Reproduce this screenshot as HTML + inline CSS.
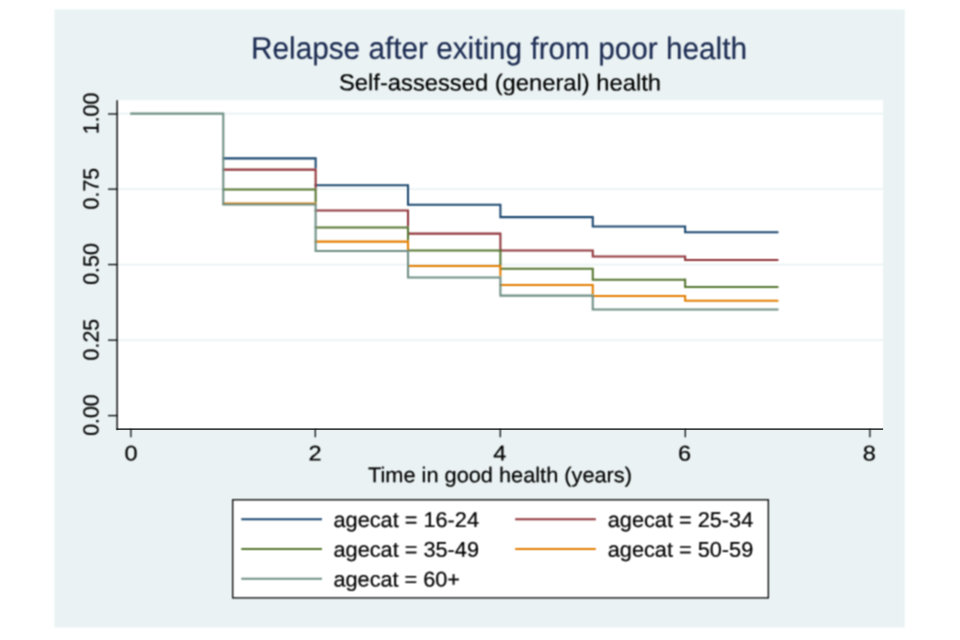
<!DOCTYPE html>
<html lang="en">
<head>
<meta charset="utf-8">
<title>Relapse after exiting from poor health</title>
<style>
html,body{margin:0;padding:0;background:#fff;}
body{width:960px;height:640px;overflow:hidden;}
svg{display:block;}
text{font-family:"Liberation Sans",Arial,Helvetica,sans-serif;fill:#000;stroke:#000;stroke-width:0.2px;stroke-linejoin:round;}
.ttl{fill:#1E2D53;stroke:#1E2D53;stroke-width:0.2px;}
</style>
</head>
<body>
<svg width="960" height="640" viewBox="0 0 960 640">
<defs><filter id="soft" x="0" y="0" width="960" height="640" filterUnits="userSpaceOnUse" color-interpolation-filters="sRGB"><feConvolveMatrix order="3" kernelMatrix="1 2 1 2 4 2 1 2 1" divisor="16" edgeMode="duplicate" preserveAlpha="true"/></filter></defs>
<g filter="url(#soft)">
<rect x="0" y="0" width="960" height="640" fill="#fff"/>
<rect x="54.4" y="9.4" width="850.35" height="618.1" fill="#EAF2F3"/>
<rect x="117.15" y="100.2" width="765.95" height="328.20" fill="#fff"/>
<line x1="117.15" x2="883.1" y1="340.10" y2="340.10" stroke="#EAF2F3" stroke-width="1.6"/>
<line x1="117.15" x2="883.1" y1="264.60" y2="264.60" stroke="#EAF2F3" stroke-width="1.6"/>
<line x1="117.15" x2="883.1" y1="189.10" y2="189.10" stroke="#EAF2F3" stroke-width="1.6"/>
<line x1="117.15" x2="883.1" y1="113.60" y2="113.60" stroke="#EAF2F3" stroke-width="1.6"/>
<path d="M222.25,158.35H316.67 M315.65,157.32V168.57 M314.62,185.30H409.05 M408.02,184.28V205.72 M407.00,204.70H501.42 M500.40,203.67V218.12 M499.38,217.10H593.80 M592.77,216.07V227.53 M591.75,226.50H686.17 M685.15,225.47V233.18 M684.12,232.15H778.42" fill="none" stroke="#1A476F" stroke-width="2.05"/>
<path d="M222.25,169.60H316.67 M315.65,168.57V188.42 M314.62,210.40H409.05 M408.02,209.38V226.38 M407.00,233.60H501.42 M500.40,232.57V249.38 M499.38,250.50H593.80 M592.77,249.47V257.52 M591.75,256.50H686.17 M685.15,255.47V261.02 M684.12,260.00H778.42" fill="none" stroke="#90353B" stroke-width="2.05"/>
<path d="M222.25,189.45H316.67 M315.65,188.42V202.57 M314.62,227.40H409.05 M408.02,226.38V240.57 M407.00,250.40H501.42 M500.40,249.38V264.93 M499.38,268.75H593.80 M592.77,267.73V280.67 M591.75,279.65H686.17 M685.15,278.62V288.02 M684.12,287.00H778.42" fill="none" stroke="#55752F" stroke-width="2.05"/>
<path d="M222.25,203.60H316.67 M315.65,202.57V203.47 M314.62,241.60H409.05 M408.02,240.57V249.88 M407.00,265.95H501.42 M500.40,264.93V276.38 M499.38,284.90H593.80 M592.77,283.88V294.58 M591.75,295.95H686.17 M685.15,294.93V301.72 M684.12,300.70H778.42" fill="none" stroke="#E37E00" stroke-width="2.05"/>
<path d="M130.15,113.60H224.30 M223.28,112.57V205.53 M222.25,204.50H316.67 M315.65,203.47V251.93 M314.62,250.90H409.05 M408.02,249.88V278.42 M407.00,277.40H501.42 M500.40,276.38V296.62 M499.38,295.60H593.80 M592.77,294.58V310.57 M591.75,309.55H685.15 M684.12,309.55H778.42" fill="none" stroke="#6E8E84" stroke-width="2.05"/>
<g stroke="#000" fill="none">
<line x1="117.15" x2="117.15" y1="100.2" y2="429.80" stroke-width="1.4"/>
<line x1="108.05" x2="117.15" y1="415.60" y2="415.60" stroke-width="1.3"/>
<line x1="108.05" x2="117.15" y1="340.15" y2="340.15" stroke-width="1.3"/>
<line x1="108.05" x2="117.15" y1="264.55" y2="264.55" stroke-width="1.3"/>
<line x1="108.05" x2="117.15" y1="189.15" y2="189.15" stroke-width="1.3"/>
<line x1="108.05" x2="117.15" y1="114.00" y2="114.00" stroke-width="1.3"/>
<line x1="130.90" x2="130.90" y1="429.1" y2="437.2" stroke-width="1.25"/>
<line x1="315.30" x2="315.30" y1="429.1" y2="437.2" stroke-width="1.25"/>
<line x1="500.30" x2="500.30" y1="429.1" y2="437.2" stroke-width="1.25"/>
<line x1="685.30" x2="685.30" y1="429.1" y2="437.2" stroke-width="1.25"/>
<line x1="869.90" x2="869.90" y1="429.1" y2="437.2" stroke-width="1.25"/>
</g>
<text transform="translate(98.5,415.05) rotate(-89.965)" font-size="21.9" text-anchor="middle" textLength="41.6" lengthAdjust="spacingAndGlyphs">0.00</text>
<text transform="translate(98.5,339.60) rotate(-89.965)" font-size="21.9" text-anchor="middle" textLength="41.6" lengthAdjust="spacingAndGlyphs">0.25</text>
<text transform="translate(98.5,264.00) rotate(-89.965)" font-size="21.9" text-anchor="middle" textLength="41.6" lengthAdjust="spacingAndGlyphs">0.50</text>
<text transform="translate(98.5,188.60) rotate(-89.965)" font-size="21.9" text-anchor="middle" textLength="41.6" lengthAdjust="spacingAndGlyphs">0.75</text>
<text transform="translate(98.5,113.45) rotate(-89.965)" font-size="21.9" text-anchor="middle" textLength="41.6" lengthAdjust="spacingAndGlyphs">1.00</text>
<text x="131.00" y="460.6" font-size="21.3" text-anchor="middle" textLength="13.1" lengthAdjust="spacingAndGlyphs" transform="rotate(0.035 131.00 460.6)">0</text>
<text x="315.00" y="460.6" font-size="21.3" text-anchor="middle" textLength="13.1" lengthAdjust="spacingAndGlyphs" transform="rotate(0.035 315.00 460.6)">2</text>
<text x="499.80" y="460.6" font-size="21.3" text-anchor="middle" textLength="13.1" lengthAdjust="spacingAndGlyphs" transform="rotate(0.035 499.80 460.6)">4</text>
<text x="684.60" y="460.6" font-size="21.3" text-anchor="middle" textLength="13.1" lengthAdjust="spacingAndGlyphs" transform="rotate(0.035 684.60 460.6)">6</text>
<text x="869.30" y="460.6" font-size="21.3" text-anchor="middle" textLength="13.1" lengthAdjust="spacingAndGlyphs" transform="rotate(0.035 869.30 460.6)">8</text>
<text x="500" y="482.3" font-size="21.3" text-anchor="middle" textLength="264" lengthAdjust="spacingAndGlyphs" transform="rotate(0.035 500 482.3)">Time in good health (years)</text>
<text x="499" y="58.9" font-size="31.0" text-anchor="middle" textLength="496" lengthAdjust="spacingAndGlyphs" transform="rotate(0.035 499 58.9)" class="ttl">Relapse after exiting from poor health</text>
<text x="500" y="90.45" font-size="23.0" text-anchor="middle" textLength="322" lengthAdjust="spacingAndGlyphs" transform="rotate(0.035 500 90.45)">Self-assessed (general) health</text>
<rect x="232.7" y="499.8" width="535.65" height="98.10" fill="#fff" stroke="#000" stroke-width="1.3"/>
<line x1="241.25" x2="321.95" y1="519.25" y2="519.25" stroke="#1A476F" stroke-width="1.90"/>
<text x="333.50" y="527.00" font-size="21.3" text-anchor="start" textLength="145.5" lengthAdjust="spacingAndGlyphs" transform="rotate(0.035 333.50 527.00)">agecat = 16-24</text>
<line x1="515.15" x2="595.85" y1="519.25" y2="519.25" stroke="#90353B" stroke-width="1.90"/>
<text x="607.75" y="527.00" font-size="21.3" text-anchor="start" textLength="145.5" lengthAdjust="spacingAndGlyphs" transform="rotate(0.035 607.75 527.00)">agecat = 25-34</text>
<line x1="241.25" x2="321.95" y1="549.00" y2="549.00" stroke="#55752F" stroke-width="1.90"/>
<text x="333.50" y="556.75" font-size="21.3" text-anchor="start" textLength="145.5" lengthAdjust="spacingAndGlyphs" transform="rotate(0.035 333.50 556.75)">agecat = 35-49</text>
<line x1="515.15" x2="595.85" y1="549.00" y2="549.00" stroke="#E37E00" stroke-width="1.90"/>
<text x="607.75" y="556.75" font-size="21.3" text-anchor="start" textLength="145.5" lengthAdjust="spacingAndGlyphs" transform="rotate(0.035 607.75 556.75)">agecat = 50-59</text>
<line x1="241.25" x2="321.95" y1="578.75" y2="578.75" stroke="#6E8E84" stroke-width="1.90"/>
<text x="333.50" y="586.50" font-size="21.3" text-anchor="start" textLength="126.5" lengthAdjust="spacingAndGlyphs" transform="rotate(0.035 333.50 586.50)">agecat = 60+</text>
</g>
<line x1="116.40" x2="883.1" y1="429.1" y2="429.1" stroke="#000" stroke-width="1.45"/>
</svg>
</body>
</html>
